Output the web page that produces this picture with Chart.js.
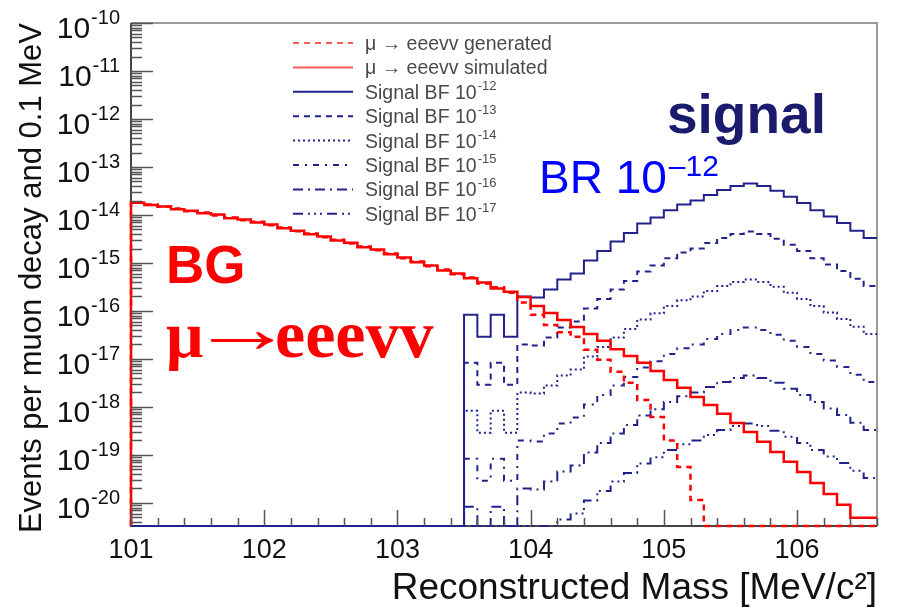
<!DOCTYPE html>
<html>
<head>
<meta charset="utf-8">
<script src="https://cdn.jsdelivr.net/npm/chart.js@4.4.1/dist/chart.umd.min.js"></script>
<style>
  html, body { margin: 0; padding: 0; background: #fff; }
</style>
</head>
<body>
<canvas id="massChart" width="913" height="612"></canvas>
<script>
// binning: 0.1 MeV bins from 101.0 to 106.6
const massLo = 101.0;
const massHi = 106.6;
const binWidth = 0.1;
const yMin = 3.3e-21;
const yMax = 1e-10;

const xTicks = [101, 102, 103, 104, 105, 106];
const yTickExps = [-20, -19, -18, -17, -16, -15, -14, -13, -12, -11, -10];

// background mu -> eeevv (56 bins)
const bgGenerated = [
  1.85e-14, 1.66e-14, 1.48e-14, 1.36e-14, 1.2e-14, 1.12e-14, 9.8e-15, 8.8e-15, 7.8e-15, 7.2e-15,
  6.1e-15, 5.5e-15, 4.6e-15, 4.1e-15, 3.45e-15, 3.05e-15, 2.55e-15, 2.2e-15, 1.85e-15, 1.58e-15,
  1.26e-15, 1.07e-15, 8.5e-16, 7.3e-16, 5.8e-16, 5.0e-16, 3.75e-16, 3.1e-16, 2.4e-16, 1.5e-16,
  8.3e-17, 5.1e-17, 3.6e-17, 2.9e-17, 1.55e-17, 9.6e-18, 5.4e-18, 3.2e-18, 1.4e-18, 6.2e-19,
  2.0e-19, 5.6e-20, 1.15e-20, 0, 0, 0, 0, 0, 0, 0,
  0, 0, 0, 0, 0, 0
];
const bgSimulated = [
  1.8e-14, 1.62e-14, 1.5e-14, 1.31e-14, 1.23e-14, 1.08e-14, 1.02e-14, 8.5e-15, 8.0e-15, 7.0e-15,
  6.3e-15, 5.3e-15, 4.7e-15, 3.95e-15, 3.55e-15, 2.95e-15, 2.65e-15, 2.12e-15, 1.9e-15, 1.52e-15,
  1.3e-15, 1.03e-15, 8.8e-16, 7.0e-16, 6.0e-16, 4.8e-16, 3.9e-16, 2.95e-16, 2.5e-16, 1.95e-16,
  1.27e-16, 9.1e-17, 6.5e-17, 4.6e-17, 3.3e-17, 2.4e-17, 1.6e-17, 1.15e-17, 8.3e-18, 5.6e-18,
  3.65e-18, 2.5e-18, 1.6e-18, 1.1e-18, 7.2e-19, 4.6e-19, 3.0e-19, 1.87e-19, 1.15e-19, 7.2e-20,
  4.4e-20, 2.6e-20, 1.54e-20, 9.1e-21, 4.9e-21, 4.9e-21
];

// signal mu -> eee for several branching fractions (56 bins)
const signalBF12 = [
  0, 0, 0, 0, 0, 0, 0, 0, 0, 0,
  0, 0, 0, 0, 0, 0, 0, 0, 0, 0,
  0, 0, 0, 0, 0, 8.3e-17, 2.9e-17, 8.3e-17, 2.9e-17, 2.0e-16,
  1.9e-16, 2.8e-16, 4.5e-16, 6.0e-16, 1.12e-15, 1.78e-15, 2.8e-15, 4.2e-15, 6.6e-15, 8.9e-15,
  1.26e-14, 1.66e-14, 2.0e-14, 2.6e-14, 3.3e-14, 4.0e-14, 4.5e-14, 4.0e-14, 3.2e-14, 2.4e-14,
  1.78e-14, 1.26e-14, 9.3e-15, 6.8e-15, 4.7e-15, 3.3e-15
];
const signalBF13 = [
  0, 0, 0, 0, 0, 0, 0, 0, 0, 0,
  0, 0, 0, 0, 0, 0, 0, 0, 0, 0,
  0, 0, 0, 0, 0, 8.3e-18, 2.9e-18, 8.3e-18, 2.9e-18, 2.0e-17,
  1.9e-17, 2.8e-17, 4.5e-17, 6.0e-17, 1.12e-16, 1.78e-16, 2.8e-16, 4.2e-16, 6.6e-16, 8.9e-16,
  1.26e-15, 1.66e-15, 2.0e-15, 2.6e-15, 3.3e-15, 4.0e-15, 4.5e-15, 4.0e-15, 3.2e-15, 2.4e-15,
  1.78e-15, 1.26e-15, 9.3e-16, 6.8e-16, 4.7e-16, 3.3e-16
];
const signalBF14 = [
  0, 0, 0, 0, 0, 0, 0, 0, 0, 0,
  0, 0, 0, 0, 0, 0, 0, 0, 0, 0,
  0, 0, 0, 0, 0, 8.3e-19, 2.9e-19, 8.3e-19, 2.9e-19, 2.0e-18,
  1.9e-18, 2.8e-18, 4.5e-18, 6.0e-18, 1.12e-17, 1.78e-17, 2.8e-17, 4.2e-17, 6.6e-17, 8.9e-17,
  1.26e-16, 1.66e-16, 2.0e-16, 2.6e-16, 3.3e-16, 4.0e-16, 4.5e-16, 4.0e-16, 3.2e-16, 2.4e-16,
  1.78e-16, 1.26e-16, 9.3e-17, 6.8e-17, 4.7e-17, 3.3e-17
];
const signalBF15 = [
  0, 0, 0, 0, 0, 0, 0, 0, 0, 0,
  0, 0, 0, 0, 0, 0, 0, 0, 0, 0,
  0, 0, 0, 0, 0, 8.3e-20, 2.9e-20, 8.3e-20, 2.9e-20, 2.0e-19,
  1.9e-19, 2.8e-19, 4.5e-19, 6.0e-19, 1.12e-18, 1.78e-18, 2.8e-18, 4.2e-18, 6.6e-18, 8.9e-18,
  1.26e-17, 1.66e-17, 2.0e-17, 2.6e-17, 3.3e-17, 4.0e-17, 4.5e-17, 4.0e-17, 3.2e-17, 2.4e-17,
  1.78e-17, 1.26e-17, 9.3e-18, 6.8e-18, 4.7e-18, 3.3e-18
];
const signalBF16 = [
  0, 0, 0, 0, 0, 0, 0, 0, 0, 0,
  0, 0, 0, 0, 0, 0, 0, 0, 0, 0,
  0, 0, 0, 0, 0, 8.3e-21, 2.9e-21, 8.3e-21, 2.9e-21, 2.0e-20,
  1.9e-20, 2.8e-20, 4.5e-20, 6.0e-20, 1.12e-19, 1.78e-19, 2.8e-19, 4.2e-19, 6.6e-19, 8.9e-19,
  1.26e-18, 1.66e-18, 2.0e-18, 2.6e-18, 3.3e-18, 4.0e-18, 4.5e-18, 4.0e-18, 3.2e-18, 2.4e-18,
  1.78e-18, 1.26e-18, 9.3e-19, 6.8e-19, 4.7e-19, 3.3e-19
];
const signalBF17 = [
  0, 0, 0, 0, 0, 0, 0, 0, 0, 0,
  0, 0, 0, 0, 0, 0, 0, 0, 0, 0,
  0, 0, 0, 0, 0, 8.3e-22, 2.9e-22, 8.3e-22, 2.9e-22, 2.0e-21,
  1.9e-21, 2.8e-21, 4.5e-21, 6.0e-21, 1.12e-20, 1.78e-20, 2.8e-20, 4.2e-20, 6.6e-20, 8.9e-20,
  1.26e-19, 1.66e-19, 2.0e-19, 2.6e-19, 3.3e-19, 4.0e-19, 4.5e-19, 4.0e-19, 3.2e-19, 2.4e-19,
  1.78e-19, 1.26e-19, 9.3e-20, 6.8e-20, 4.7e-20, 3.3e-20
];
const bfExponents = ['-12', '-13', '-14', '-15', '-16', '-17'];

// ROOT-like histogram outline: rise from the axis at the first edge, empty bins sit on the axis
function histPoints(vals) {
  const clampY = v => (v > yMin ? v : yMin);
  const pts = [{ x: massLo, y: yMin }];
  vals.forEach((v, i) => pts.push({ x: massLo + i * binWidth, y: clampY(v) }));
  pts.push({ x: massHi, y: clampY(vals[vals.length - 1]) });
  return pts;
}

const red = '#ff0000';
const navy = '#22228c';
const sansFont = '"Liberation Sans", Arial, sans-serif';
const signalSeries = [signalBF12, signalBF13, signalBF14, signalBF15, signalBF16, signalBF17];
const signalDash = [[], [6, 5], [2, 3], [6, 6, 2, 6], [10, 5, 2, 5], [10, 5, 2, 4, 2, 4, 2, 5]];

const datasets = [
  { label: '\u03bc \u2192 eeevv generated', data: histPoints(bgGenerated), borderColor: red, borderWidth: 2.5, borderDash: [6, 5] },
  { label: '\u03bc \u2192 eeevv simulated', data: histPoints(bgSimulated), borderColor: red, borderWidth: 2.5, borderDash: [] }
];
signalSeries.forEach((s, i) => {
  datasets.push({ label: 'Signal BF 10', exp: bfExponents[i], data: histPoints(s),
    borderColor: navy, borderWidth: 2, borderDash: signalDash[i] });
});
datasets.forEach(d => {
  d.stepped = true; d.pointRadius = 0; d.fill = false; d.clip = false;
});

const rootStyle = {
  id: 'rootStyle',
  beforeDatasetsDraw(chart) {
    const { ctx, chartArea: a } = chart;
    ctx.save();
    ctx.lineWidth = 2;
    ctx.strokeStyle = '#9a9a9a';
    ctx.beginPath();
    ctx.moveTo(a.left, a.top); ctx.lineTo(a.right, a.top); ctx.lineTo(a.right, a.bottom);
    ctx.stroke();
    ctx.strokeStyle = '#444';
    ctx.beginPath();
    ctx.moveTo(a.left, a.top); ctx.lineTo(a.left, a.bottom); ctx.lineTo(a.right, a.bottom);
    ctx.stroke();
    ctx.restore();
  },
  afterDatasetsDraw(chart) {
    const { ctx, chartArea: a, scales: { x, y } } = chart;
    ctx.save();
    ctx.strokeStyle = '#555';
    ctx.lineWidth = 1.5;
    ctx.beginPath();
    // y ticks, inside the frame
    yTickExps.forEach(e => {
      const py = Math.round(y.getPixelForValue(Math.pow(10, e))) + 0.5;
      ctx.moveTo(a.left, py); ctx.lineTo(a.left + 22, py);
    });
    for (let e = -21; e < -10; e++) {
      for (let m = 2; m <= 9; m++) {
        const v = m * Math.pow(10, e);
        if (v < yMin || v > yMax) continue;
        const py = Math.round(y.getPixelForValue(v)) + 0.5;
        ctx.moveTo(a.left, py); ctx.lineTo(a.left + 11, py);
      }
    }
    // x ticks
    for (let k = 0; massLo + k * 0.2 <= massHi + 1e-9; k++) {
      const v = massLo + k * 0.2;
      const px = Math.round(x.getPixelForValue(v)) + 0.5;
      const major = k % 5 === 0;
      ctx.moveTo(px, a.bottom); ctx.lineTo(px, a.bottom - (major ? 16 : 8));
    }
    ctx.stroke();

    // y tick labels with superscript exponents
    ctx.fillStyle = '#111';
    ctx.textAlign = 'left';
    ctx.textBaseline = 'alphabetic';
    yTickExps.forEach(e => {
      const py = y.getPixelForValue(Math.pow(10, e));
      const expTxt = String(e);
      ctx.font = '20px ' + sansFont;
      const we = ctx.measureText(expTxt).width;
      ctx.font = '30px ' + sansFont;
      const wb = ctx.measureText('10').width;
      const xr = a.left - 11;
      ctx.fillText('10', xr - we - wb - 1, py + 15);
      ctx.font = '20px ' + sansFont;
      ctx.fillText(expTxt, xr - we, py + 1);
    });
    ctx.restore();
  },
  afterDraw(chart) {
    const { ctx } = chart;
    ctx.save();
    // legend
    chart.data.datasets.forEach((d, i) => {
      const ly = 43 + i * 24.4;
      ctx.strokeStyle = d.borderColor === red ? '#ff5a5a' : d.borderColor;
      ctx.lineWidth = 2;
      ctx.setLineDash(d.borderDash || []);
      ctx.beginPath(); ctx.moveTo(293, ly); ctx.lineTo(353, ly); ctx.stroke();
      ctx.setLineDash([]);
      ctx.fillStyle = '#4a4a4a';
      ctx.textBaseline = 'alphabetic';
      ctx.textAlign = 'left';
      ctx.font = '19.5px ' + sansFont;
      ctx.fillText(d.label, 365, ly + 7);
      if (d.exp) {
        const w = ctx.measureText(d.label).width;
        ctx.font = '13px ' + sansFont;
        ctx.fillText(d.exp, 365 + w + 1, ly - 2);
      }
    });

    // annotations
    ctx.textAlign = 'left';
    ctx.textBaseline = 'alphabetic';
    ctx.fillStyle = '#1b1b6e';
    ctx.font = 'bold 55px ' + sansFont;
    ctx.fillText('signal', 667, 133);

    ctx.fillStyle = '#0000ff';
    ctx.font = '46px ' + sansFont;
    ctx.fillText('BR 10', 539, 193);
    const wbr = ctx.measureText('BR 10').width;
    ctx.font = '30px ' + sansFont;
    ctx.fillText('\u201312', 539 + wbr + 2, 176);

    ctx.fillStyle = red;
    ctx.font = 'bold 53px ' + sansFont;
    ctx.fillText('BG', 166, 283);
    // mu -> eeevv, arrow stretched like the Symbol-font arrow
    const serif = '"Liberation Serif", "Times New Roman", serif';
    ctx.font = 'bold 66px ' + serif;
    ctx.fillText('\u03bc', 166, 357);
    ctx.save();
    ctx.translate(190, 352);
    ctx.scale(1.5, 1);
    ctx.font = 'bold 70px ' + serif;
    ctx.fillText('\u2192', 0, 0);
    ctx.restore();
    ctx.font = 'bold 68px ' + serif;
    ctx.fillText('eeevv', 275, 357);
    ctx.restore();
  }
};

new Chart(document.getElementById('massChart'), {
  type: 'line',
  data: { datasets: datasets },
  options: {
    responsive: false,
    animation: false,
    devicePixelRatio: 1,
    layout: { padding: { top: 23, right: 36, left: 0, bottom: 0 } },
    plugins: { legend: { display: false }, tooltip: { enabled: false } },
    scales: {
      x: {
        type: 'linear',
        min: massLo,
        max: massHi,
        afterBuildTicks: s => { s.ticks = xTicks.map(v => ({ value: v })); },
        afterFit: s => { s.height = 86; },
        grid: { display: false, drawTicks: false },
        border: { display: false },
        ticks: {
          color: '#111',
          padding: 8,
          maxRotation: 0,
          font: { family: sansFont, size: 27 },
          callback: v => String(v)
        },
        title: {
          display: true,
          text: 'Reconstructed Mass [MeV/c\u00b2]',
          align: 'end',
          color: '#111',
          padding: { top: 0, bottom: 1 },
          font: { family: sansFont, size: 37 }
        }
      },
      y: {
        type: 'logarithmic',
        min: yMin,
        max: yMax,
        afterBuildTicks: s => { s.ticks = yTickExps.map(e => ({ value: Math.pow(10, e) })); },
        afterFit: s => { s.width = 131; },
        grid: { display: false, drawTicks: false },
        border: { display: false },
        ticks: { display: false },
        title: {
          display: true,
          text: 'Events per muon decay and 0.1 MeV',
          align: 'end',
          color: '#111',
          padding: { top: 14, bottom: 0 },
          font: { family: sansFont, size: 31 }
        }
      }
    }
  },
  plugins: [rootStyle]
});
</script>
</body>
</html>
